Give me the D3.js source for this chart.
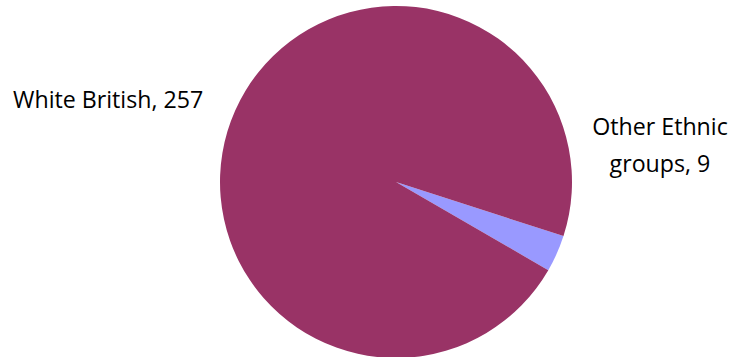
<!DOCTYPE html>
<html>
<head>
<meta charset="utf-8">
<script src="https://cdn.jsdelivr.net/npm/d3@7"></script>
<style>
  html, body { margin: 0; padding: 0; background: #fff; }
  svg { display: block; }
  text { font-family: "Open Sans", "Noto Sans", sans-serif; fill: #000; }
</style>
</head>
<body>
<svg id="chart" width="733" height="357"></svg>
<script>
// Ethnic group counts
const groups = ["Other Ethnic groups", "White British"];
const counts = [9, 257];
const sliceColors = ["#9999FF", "#993366"];
// Label lines shown beside the pie
const labelLines = [["Other Ethnic", "groups, 9"], ["White British, 257"]];

const width = 733, height = 357;
const cx = 396, cy = 182, radius = 176;
const firstSliceAngle = 107.9 * Math.PI / 180;

const svg = d3.select("#chart");
const g = svg.append("g").attr("transform", `translate(${cx},${cy})`);

const data = groups.map((name, i) => ({ name, value: counts[i], color: sliceColors[i], lines: labelLines[i] }));

const pie = d3.pie()
  .sort(null)
  .value(d => d.value)
  .startAngle(firstSliceAngle)
  .endAngle(firstSliceAngle + 2 * Math.PI);

const arc = d3.arc().innerRadius(0).outerRadius(radius);

g.selectAll("path.slice")
  .data(pie(data))
  .join("path")
  .attr("class", "slice")
  .attr("d", arc)
  .attr("fill", d => d.data.color);

// Data labels
const fontSize = 23.2;
const labelPlacement = [
  { x: 660, y: 135, anchor: "middle", lineGap: 36.5 },
  { x: 13, y: 108, anchor: "start", lineGap: 36.5 }
];

data.forEach((d, i) => {
  const p = labelPlacement[i];
  const t = svg.append("text")
    .attr("text-anchor", p.anchor)
    .style("font-size", fontSize + "px");
  d.lines.forEach((line, j) => {
    t.append("tspan")
      .attr("x", p.x)
      .attr("y", p.y + j * p.lineGap)
      .text(line);
  });
});
</script>
</body>
</html>
